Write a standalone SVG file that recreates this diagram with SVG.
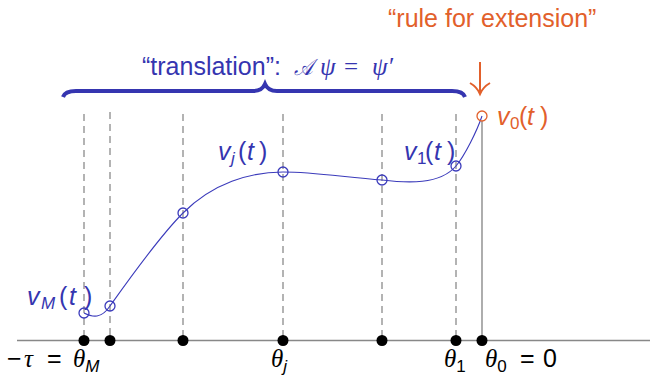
<svg xmlns="http://www.w3.org/2000/svg" width="650" height="375" viewBox="0 0 650 375">
<style>
.dash{stroke:#9a9a9a;stroke-width:1.5;stroke-dasharray:7 5;fill:none}
.axis{stroke:#888;stroke-width:1.5;fill:none}
.curve{stroke:#3b3bbb;stroke-width:1.1;fill:none}
.pt{stroke:#3b3bbb;stroke-width:1.3;fill:none}
.dot{fill:#000}
.sans{font-family:"Liberation Sans",Arial,sans-serif}
.blue{fill:#3535b0}
.orange{fill:#e2602b}
.it{font-style:italic}
.math{font-family:"Liberation Serif","DejaVu Serif",serif;font-style:italic}
.up{font-style:normal}
.sub{font-size:17px}
</style>
<rect width="650" height="375" fill="#fff"/>
<g id="gridlines">
<line class="dash" x1="84" y1="114" x2="84" y2="340"/>
<line class="dash" x1="110" y1="112" x2="110" y2="340"/>
<line class="dash" x1="183" y1="114" x2="183" y2="340"/>
<line class="dash" x1="283" y1="114" x2="283" y2="340"/>
<line class="dash" x1="382" y1="114" x2="382" y2="340"/>
<line class="dash" x1="456" y1="114" x2="456" y2="340"/>
<line x1="482" y1="121" x2="482" y2="340" stroke="#777" stroke-width="1.2"/>
</g>
<g id="axis">
<line class="axis" x1="17" y1="340.5" x2="650" y2="340.5"/>
<circle class="dot" cx="84" cy="340.5" r="5.5"/>
<circle class="dot" cx="110" cy="340.5" r="5.5"/>
<circle class="dot" cx="183" cy="340.5" r="5.5"/>
<circle class="dot" cx="283" cy="340.5" r="5.5"/>
<circle class="dot" cx="382" cy="340.5" r="5.5"/>
<circle class="dot" cx="456" cy="340.5" r="5.5"/>
<circle class="dot" cx="482" cy="340.5" r="5.5"/>
</g>
<g id="connectors">
<path class="curve" d="M84,313 C92.7,317.3 101.3,319 110,306 C125,285 158,238 183,213 C213,183 250,172 283,172 C316,172 349,178 382,180 C406.7,183 440,185 456,166 C464.7,155.6 477,131 482,116"/>
</g>
<g id="points">
<circle class="pt" cx="84" cy="313" r="5"/>
<circle class="pt" cx="110" cy="306" r="5"/>
<circle class="pt" cx="183" cy="213" r="5"/>
<circle class="pt" cx="283" cy="172" r="5"/>
<circle class="pt" cx="382" cy="180" r="5"/>
<circle class="pt" cx="456" cy="166" r="5"/>
<circle cx="482" cy="116" r="5" fill="none" stroke="#e2602b" stroke-width="1.3"/>
</g>
<g id="curve-labels" font-size="25">
<text class="sans blue" y="305"><tspan class="it" x="27">v</tspan><tspan class="it sub" x="41" dy="4">M</tspan><tspan x="59" dy="-4">(</tspan><tspan class="it" x="69">t</tspan><tspan x="84">)</tspan></text>
<text class="sans blue" y="160"><tspan class="it" x="218">v</tspan><tspan class="it sub" x="231" dy="4">j</tspan><tspan x="238" dy="-4">(</tspan><tspan class="it" x="247">t</tspan><tspan x="259">)</tspan></text>
<text class="sans blue" y="160"><tspan class="it" x="404">v</tspan><tspan class="sub" x="417" dy="4">1</tspan><tspan x="425" dy="-4">(</tspan><tspan class="it" x="434">t</tspan><tspan x="447">)</tspan></text>
<text class="sans orange" y="125"><tspan class="it" x="497">v</tspan><tspan class="sub" x="510" dy="4">0</tspan><tspan x="519" dy="-4">(</tspan><tspan class="it" x="527">t</tspan><tspan x="540">)</tspan></text>
</g>
<g id="axis-labels" font-size="25">
<text x="7" y="367"><tspan class="sans">−</tspan><tspan class="math" x="24">τ</tspan><tspan class="sans" x="47">=</tspan><tspan class="math" x="73">θ</tspan><tspan class="sans it sub" dy="5">M</tspan></text>
<text x="271" y="367"><tspan class="math">θ</tspan><tspan class="sans it sub" dy="5">j</tspan></text>
<text x="444" y="367"><tspan class="math">θ</tspan><tspan class="sans sub" dy="5">1</tspan></text>
<text x="485" y="367"><tspan class="math">θ</tspan><tspan class="sans sub" dy="5">0</tspan><tspan class="sans" x="520" dy="-5">=</tspan><tspan class="sans" x="543">0</tspan></text>
</g>
<g id="brace">
<path d="M63,97 Q65,91 76,91 L253,91 Q262,91 265,84 Q268,91 277,91 L452,91 Q463,91 465,97" fill="none" stroke="#3535b0" stroke-width="4"/>
<text class="sans blue" x="142" y="75" font-size="25">“translation”:</text>
<text class="math blue" x="294" y="75" font-size="23" textLength="19" lengthAdjust="spacingAndGlyphs">𝒜</text>
<text class="math blue" y="75" font-size="25"><tspan x="320">ψ</tspan><tspan class="up" x="344">=</tspan><tspan x="372">ψ′</tspan></text>
</g>
<g id="extension">
<text class="sans orange" x="388" y="27" font-size="25">“rule for extension”</text>
<path d="M480,62 L480,93" stroke="#e2602b" stroke-width="2" fill="none"/>
<path d="M470,83 Q477,87 480,94 Q483,87 490,83" stroke="#e2602b" stroke-width="2" fill="none"/>
</g>
</svg>
